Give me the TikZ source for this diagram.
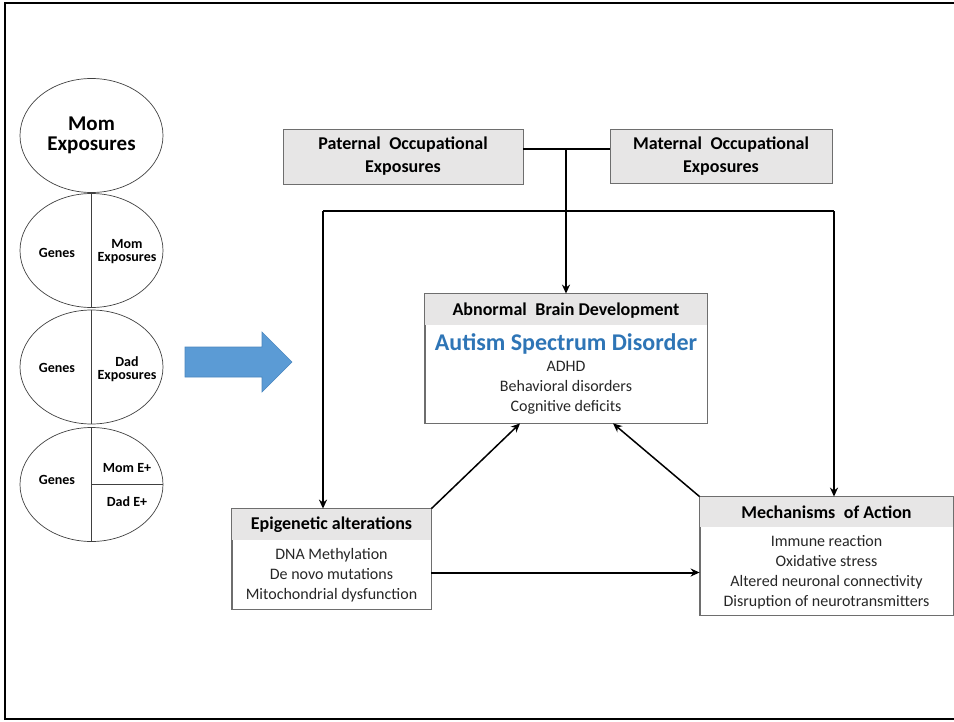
\documentclass[tikz,border=0pt]{standalone}
\usepackage{fontspec}
\setmainfont{Carlito}
\usetikzlibrary{shapes.geometric,arrows.meta,calc}
\definecolor{hdrfill}{HTML}{E7E6E6}
\definecolor{boxline}{HTML}{6E6E6E}
\definecolor{asdblue}{HTML}{2E75B6}
\definecolor{arrowblue}{HTML}{5B9BD5}
\definecolor{arrowedge}{HTML}{4A86BE}
\definecolor{bodytext}{HTML}{262626}
\tikzset{
  circ/.style={ellipse, draw=black!75, line width=0.7pt, minimum width=143pt, minimum height=114pt, inner sep=0pt},
  ctext/.style={font=\bfseries\fontsize{14}{13}\selectfont, align=center, inner sep=0pt},
  btext/.style={font=\bfseries\fontsize{21}{20}\selectfont, align=center, inner sep=0pt},
  topbox/.style={draw=boxline, fill=hdrfill, line width=0.8pt, inner sep=0pt, align=center,
     font=\bfseries\fontsize{18}{23}\selectfont},
  framebox/.style={draw=boxline, line width=0.8pt, inner sep=0pt},
  hdrtext/.style={font=\bfseries\fontsize{18}{22}\selectfont, inner sep=0pt},
  bodytxt/.style={font=\fontsize{16}{20}\selectfont, text=bodytext, align=center, inner sep=0pt},
  heavy/.style={line width=2.4pt, black},
  heavyarr/.style={line width=2.4pt, black, -{Stealth[length=9pt,width=8pt]}},
  lightarr/.style={line width=1.5pt, black, -{Stealth[length=9pt,width=8pt]}},
}
\begin{document}
\begin{tikzpicture}[x=1pt,y=-1pt]
\useasboundingbox (0,0) rectangle (954,721);
% outer frame
\draw[line width=2pt] (954,2.5) -- (4.5,2.5) -- (4.5,719) -- (954,719);

% circles
\node[circ] (c1) at (91.5,135.5) {};
\node[btext] (c1t) at (91.5,135) {Mom\\Exposures};

\node[circ] (c2) at (91.5,250.5) {};
\draw[black!75, line width=0.7pt] (c2.north) -- (c2.south);
\node[ctext] (c2a) at (57,253) {Genes};
\node[ctext] (c2b) at (127,251.5) {Mom\\Exposures};

\node[circ] (c3) at (91.5,367) {};
\draw[black!75, line width=0.7pt] (c3.north) -- (c3.south);
\node[ctext] (c3a) at (57,368) {Genes};
\node[ctext] (c3b) at (127,369.5) {Dad\\Exposures};

\node[circ] (c4) at (91.5,484.5) {};
\draw[black!75, line width=0.7pt] (c4.north) -- (c4.south);
\draw[black!75, line width=0.7pt] (c4.center) -- (c4.east);
\node[ctext] (c4a) at (57,480) {Genes};
\node[ctext] (c4b) at (127,468) {Mom E+};
\node[ctext] (c4c) at (127,502) {Dad E+};

% blue arrow
\fill[arrowblue, draw=arrowedge, line width=0.6pt]
  (185,347) -- (262,347) -- (262,332) -- (292,362) -- (262,392) -- (262,377) -- (185,377) -- cycle;

% top boxes
\node[topbox, minimum width=240pt, minimum height=55pt] (pat) at (403,156.5) {Paternal\hspace{0.25em} Occupational\\Exposures};
\node[topbox, minimum width=222pt, minimum height=54pt] (mat) at (721,156) {Maternal\hspace{0.25em} Occupational\\Exposures};

% abnormal brain development box
\node[framebox, minimum width=282pt, minimum height=129pt] (abn) at (566,358.5) {};
\fill[hdrfill] ([xshift=0.4pt,yshift=-0.4pt]abn.north west) rectangle ([xshift=-0.4pt,yshift=-31pt]abn.north east);
\draw[boxline, line width=0.8pt] (abn.north west) rectangle (abn.south east);
\node[hdrtext] (abnh) at (566,311) {Abnormal\hspace{0.25em} Brain Development};
\node[inner sep=0pt, font=\bfseries\fontsize{24}{26}\selectfont, text=asdblue] (asd) at (566,344) {Autism Spectrum Disorder};
\node[bodytxt] (abnb) at (566,387.5) {ADHD\\Behavioral disorders\\Cognitive deficits};

% epigenetic box
\node[framebox, minimum width=199pt, minimum height=100pt] (epi) at (331.5,559) {};
\fill[hdrfill] ([xshift=0.4pt,yshift=-0.4pt]epi.north west) rectangle ([xshift=-0.4pt,yshift=-31pt]epi.north east);
\draw[boxline, line width=0.8pt] (epi.north west) rectangle (epi.south east);
\node[hdrtext] (epih) at (331.5,525) {Epigenetic alterations};
\node[bodytxt] (epib) at (331.5,575) {DNA Methylation\\De novo mutations\\Mitochondrial dysfunction};

% mechanisms box
\node[framebox, minimum width=253pt, minimum height=118pt] (mec) at (826.5,556) {};
\fill[hdrfill] ([xshift=0.4pt,yshift=-0.4pt]mec.north west) rectangle ([xshift=-0.4pt,yshift=-30pt]mec.north east);
\draw[boxline, line width=0.8pt] (mec.north west) rectangle (mec.south east);
\node[hdrtext] (mech) at (826.5,512) {Mechanisms\hspace{0.25em} of Action};
\node[bodytxt] (mecb) at (826.5,572.5) {Immune reaction\\Oxidative stress\\Altered neuronal connectivity\\Disruption of neurotransmitters};

% connectors
\coordinate (j) at (566,149);
\draw[heavy] (pat.east |- j) -- (mat.west |- j);
\draw[heavyarr] (j) -- (abn.north);
\coordinate (tl) at (323,211);
\coordinate (tr) at (834,211);
\draw[heavy] (tl) -- (tr);
\draw[heavyarr] (tl) -- (tl |- epi.north);
\draw[heavyarr] (tr) -- (tr |- mec.north);
\draw[lightarr] (epi.north east) -- ([xshift=-46pt]abn.south);
\draw[lightarr] (mec.north west) -- ([xshift=47pt]abn.south);
\draw[line width=2pt, black, -{Stealth[length=9pt,width=8pt]}] ([yshift=-13.5pt]epi.east) -- ([yshift=-13.5pt]epi.east -| mec.west);
\end{tikzpicture}
\end{document}
